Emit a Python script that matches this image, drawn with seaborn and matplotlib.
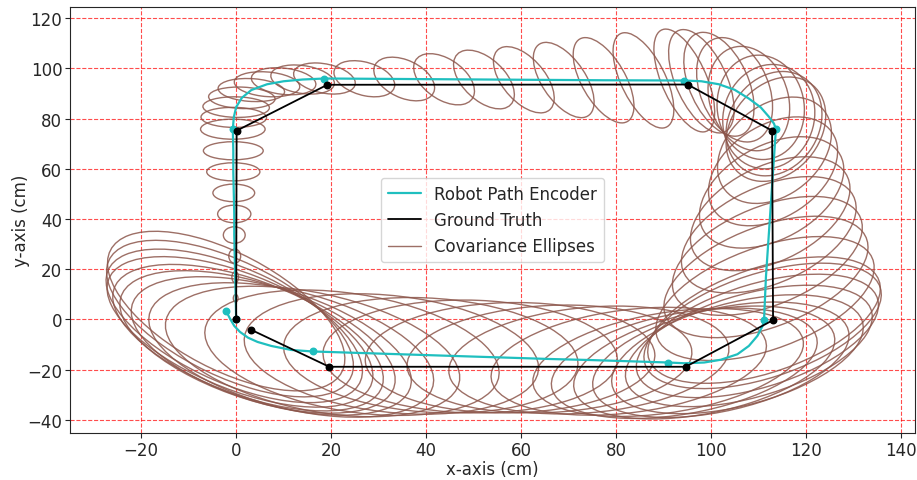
import numpy as np
import matplotlib
matplotlib.use("Agg")
import matplotlib.pyplot as plt
from matplotlib.patches import Ellipse
from matplotlib.lines import Line2D
import seaborn as sns

# Encoder-estimated robot poses (cm), in driving order
path_x = [0, -0.1, -0.2, -0.3, -0.4, -0.4, -0.5, -0.6, -0.6, -0.7,
          -0.5, 0.0, 1.2, 3.2, 6.5, 10.0, 14.0, 18.6,
          27.0, 35.4, 43.8, 52.2, 60.6, 69.0, 77.4, 85.8, 94.4,
          98.0, 101.7, 105.0, 108.0, 110.5, 112.2, 113.3, 113.7,
          113.4, 113.1, 112.8, 112.5, 112.2, 111.9, 111.6, 111.4, 111.2,
          110.9, 109.8, 108.0, 105.6, 102.1, 98.6, 94.4, 91.0,
          82.7, 74.3, 66.0, 57.7, 49.3, 41.0, 32.7, 24.4, 16.1,
          11.6, 7.4, 4.5, 2.5, 0.8, -0.4, -1.3, -2.1]
path_y = [0, 8.4, 16.8, 25.2, 33.6, 42.0, 50.4, 58.8, 67.2, 75.8,
          80.5, 84.6, 88.3, 91.4, 93.7, 94.9, 95.6, 96.0,
          95.9, 95.8, 95.7, 95.6, 95.5, 95.4, 95.3, 95.25, 95.2,
          94.9, 93.7, 91.5, 88.0, 84.5, 80.8, 78.0, 75.8,
          67.4, 59.0, 50.6, 42.1, 33.7, 25.3, 16.9, 8.3, -0.3,
          -2.6, -6.6, -10.6, -13.9, -16.1, -17.2, -17.5, -17.2,
          -16.7, -16.2, -15.8, -15.3, -14.8, -14.3, -13.8, -13.3, -12.8,
          -12.2, -10.6, -9.0, -7.3, -5.0, -2.6, 0.3, 3.3]

# Checkpoints where each leg of the encoder path ends
check_idx = [0, 9, 17, 26, 34, 43, 51, 60, 68]

# Ground-truth checkpoints (cm)
gt_x = [0, 0.1, 19.2, 95.1, 112.9, 113.1, 94.7, 19.6, 3.2]
gt_y = [0, 75.2, 93.5, 93.6, 75.2, -0.3, -18.9, -18.9, -4.2]

# Covariance at each pose: std-dev extents along x and y (cm) and correlation
sig_x = [0, 0.5, 0.7, 1.25, 2.3, 3.5, 4.4, 5.6, 6.3, 6.8,
         6.9, 7.0, 7.0, 7.0, 6.9, 6.8, 6.7, 6.5,
         6.4, 6.4, 6.4, 6.4, 6.4, 6.4, 6.4, 6.4, 6.4,
         6.9, 7.4, 8.0, 8.6, 9.2, 9.7, 10.1, 10.5,
         12.0, 13.6, 15.2, 16.8, 18.4, 20.0, 21.5, 23.0, 24.5,
         25.0, 25.5, 26.0, 26.5, 27.0, 27.5, 28.0, 28.5,
         29.0, 29.5, 30.0, 30.5, 31.0, 31.0, 31.0, 31.0, 31.0,
         30.0, 29.5, 29.0, 28.5, 28.0, 27.0, 26.0, 25.0]
sig_y = [0, 1.5, 2.2, 2.8, 3.3, 3.5, 3.5, 3.6, 3.6, 4.0,
         4.0, 4.1, 4.3, 4.6, 5.0, 5.4, 5.8, 6.2,
         7.2, 8.7, 10.2, 11.7, 13.2, 15.0, 17.0, 19.0, 20.5,
         20.6, 20.7, 20.8, 20.8, 20.8, 20.8, 20.8, 20.8,
         21.2, 21.7, 22.2, 22.7, 23.2, 23.7, 24.2, 24.7, 25.2,
         25.0, 24.6, 24.2, 23.7, 23.0, 22.5, 22.0, 21.5,
         21.5, 21.5, 21.5, 22.0, 22.5, 23.0, 24.0, 25.0, 26.0,
         26.8, 27.6, 28.4, 29.2, 30.0, 30.6, 31.2, 31.8]
rho_xy = [0, 0, 0, 0, 0, 0, 0, 0, 0, 0,
          -0.03, -0.06, -0.10, -0.14, -0.18, -0.22, -0.26, -0.30,
          -0.34, -0.40, -0.46, -0.51, -0.55, -0.58, -0.60, -0.61, -0.61,
          -0.55, -0.45, -0.33, -0.19, -0.05, 0.08, 0.18, 0.26,
          0.32, 0.37, 0.41, 0.44, 0.46, 0.48, 0.49, 0.50, 0.50,
          0.50, 0.50, 0.48, 0.45, 0.42, 0.40, 0.38, 0.35,
          0.28, 0.20, 0.12, 0.04, -0.05, -0.14, -0.23, -0.32, -0.40,
          -0.45, -0.50, -0.53, -0.56, -0.58, -0.59, -0.60, -0.60]

x_ticks = [-20, 0, 20, 40, 60, 80, 100, 120, 140]
y_ticks = [-40, -20, 0, 20, 40, 60, 80, 100, 120]

sns.set_style("ticks")
plt.rcParams["font.family"] = ["DejaVu Sans"]

fig = plt.figure(figsize=(9.17, 4.81), dpi=100)
ax = fig.add_axes([70 / 917, 1 - 434 / 481, 845 / 917, 426 / 481])

path_color = "#1fbfbf"
ell_color = "#8c564b"

# covariance ellipses
for cx, cy, sx, sy, r in zip(path_x, path_y, sig_x, sig_y, rho_xy):
    if sx == 0 or sy == 0:
        continue
    cov = np.array([[sx * sx, r * sx * sy], [r * sx * sy, sy * sy]])
    vals, vecs = np.linalg.eigh(cov)
    ang = np.degrees(np.arctan2(vecs[1, 1], vecs[0, 1]))
    ax.add_patch(Ellipse((cx, cy), 2 * np.sqrt(vals[1]), 2 * np.sqrt(vals[0]),
                         angle=ang, fill=False, edgecolor=ell_color,
                         linewidth=1.0, alpha=0.85, zorder=2))

# encoder path
sns.lineplot(x=path_x, y=path_y, sort=False, estimator=None, color=path_color,
             linewidth=1.6, ax=ax, zorder=3)
ax.scatter([path_x[i] for i in check_idx], [path_y[i] for i in check_idx],
           s=22, color=path_color, zorder=4)

# ground truth
sns.lineplot(x=gt_x, y=gt_y, sort=False, estimator=None, color="black",
             linewidth=1.3, ax=ax, zorder=5)
ax.scatter(gt_x, gt_y, s=22, color="black", zorder=6)

ax.set_xlim(-35, 143)
ax.set_ylim(-45.3, 124.5)
ax.set_xticks(x_ticks)
ax.set_yticks(y_ticks)
ax.tick_params(labelsize=12, pad=2)
ax.grid(True, color="red", linestyle="--", linewidth=0.8, alpha=0.7)
ax.set_axisbelow(True)
ax.set_xlabel("x-axis (cm)", fontsize=12)
ax.set_ylabel("y-axis (cm)", fontsize=12)
ax.xaxis.set_label_coords(0.5, -0.064)
ax.yaxis.set_label_coords(-0.047, 0.5)

handles = [Line2D([], [], color=path_color, linewidth=1.6),
           Line2D([], [], color="black", linewidth=1.3),
           Line2D([], [], color=ell_color, linewidth=1.0, alpha=0.85)]
ax.legend(handles, ["Robot Path Encoder", "Ground Truth", "Covariance Ellipses"],
          loc="center", fontsize=12, framealpha=0.8)

fig.savefig("out.png", dpi=100)
